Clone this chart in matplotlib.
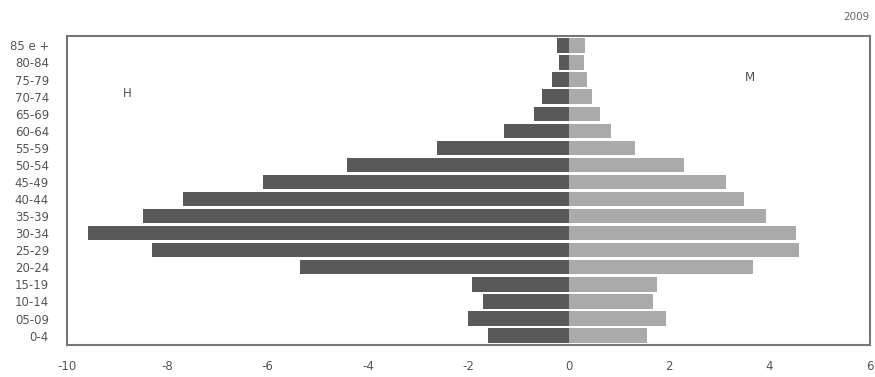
import matplotlib
matplotlib.use("Agg")
import matplotlib.pyplot as plt

age_groups = ["0-4", "05-09", "10-14", "15-19", "20-24", "25-29", "30-34", "35-39",
              "40-44", "45-49", "50-54", "55-59", "60-64", "65-69", "70-74", "75-79",
              "80-84", "85 e +"]
male = [-1.61, -2.01, -1.71, -1.93, -5.36, -8.30, -9.58, -8.49, -7.69, -6.10,
        -4.42, -2.63, -1.30, -0.70, -0.54, -0.34, -0.20, -0.24]
female = [1.55, 1.93, 1.68, 1.75, 3.67, 4.59, 4.52, 3.92, 3.49, 3.13,
          2.29, 1.31, 0.84, 0.62, 0.46, 0.37, 0.30, 0.32]
x_ticks = [-10, -8, -6, -4, -2, 0, 2, 4, 6]
x_tick_labels = ["-10", "-8", "-6", "-4", "-2", "0", "2", "4", "6"]

fig = plt.figure(figsize=(8.75, 3.77), dpi=100)
ax = fig.add_axes([67/875, 1-345/377, (870-67)/875, (345-36)/377])

pos = list(range(len(age_groups)))
ax.barh(pos, male, height=0.84, color="#595959", edgecolor="none")
ax.barh(pos, female, height=0.84, color="#aaaaaa", edgecolor="none")

ax.set_xlim(-10, 6)
ax.set_ylim(-0.55, len(age_groups) - 0.45)
ax.set_xticks(x_ticks)
ax.set_xticklabels(x_tick_labels)
ax.set_yticks(pos)
ax.set_yticklabels(age_groups)
ax.tick_params(axis="both", length=0, labelsize=8.5, colors="#555555")
ax.tick_params(axis="y", pad=13)
ax.tick_params(axis="x", pad=11)
for s in ax.spines.values():
    s.set_color("#777777")
    s.set_linewidth(1.5)

ax.text(-8.8, 14.2, "H", fontsize=8.5, color="#555555", ha="center", va="center")
ax.text(3.6, 15.1, "M", fontsize=8.5, color="#555555", ha="center", va="center")
fig.text(870/875, 1-17/377, "2009", fontsize=7.5, color="#666666", ha="right", va="center")

fig.savefig("out.png", dpi=100, facecolor="white")
